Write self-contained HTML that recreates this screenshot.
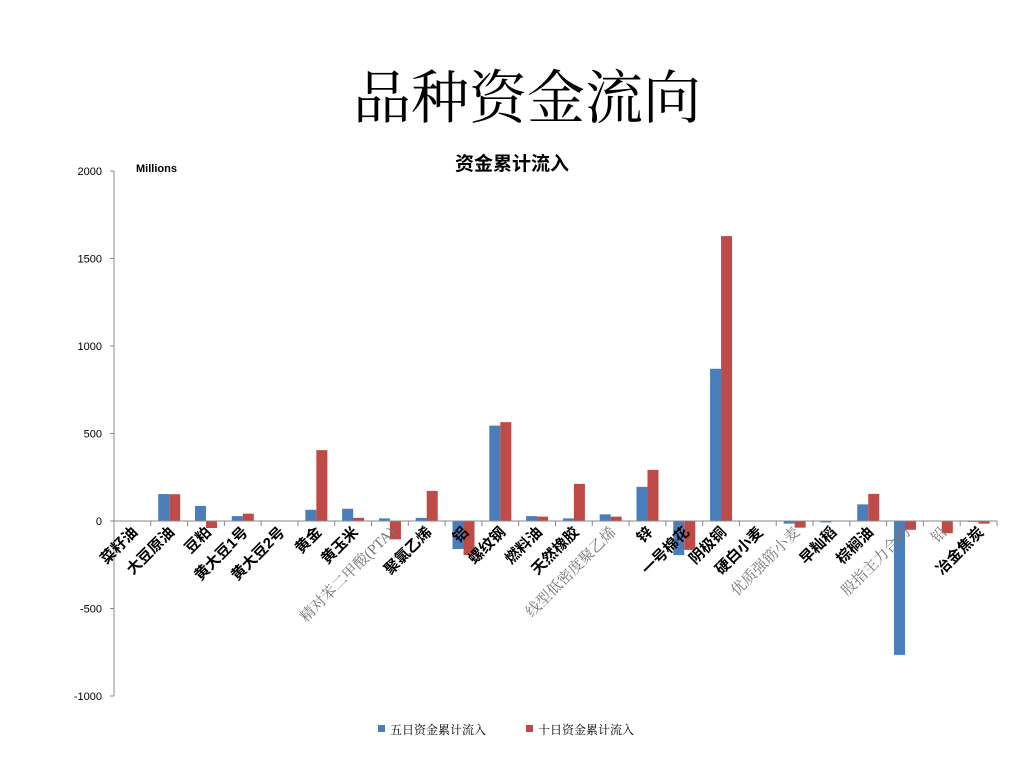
<!DOCTYPE html>
<html><head><meta charset="utf-8">
<style>
body{margin:0;background:#fff;}
svg{display:block;}
</style></head>
<body>
<svg id="c" width="1024" height="768" xmlns="http://www.w3.org/2000/svg">
<text x="527" y="118" text-anchor="middle" font-family="'Liberation Serif','Noto Serif CJK SC',serif" font-size="58" fill="#000">品种资金流向</text>
<text x="512" y="170" text-anchor="middle" font-family="'Liberation Sans','Noto Sans CJK SC',sans-serif" font-size="19" font-weight="bold" fill="#000">资金累计流入</text>
<text x="136" y="172" font-family="'Liberation Sans',sans-serif" font-size="11" font-weight="bold" fill="#000">Millions</text>
<g id="plot"></g>
<g>
<rect x="378" y="725" width="7" height="7" fill="#4a7ebb"/>
<text x="390" y="734" font-family="'Liberation Serif','Noto Serif CJK SC',serif" font-size="12" fill="#000">五日资金累计流入</text>
<text x="0" y="0" display="none"></text>
<rect x="526" y="725" width="7" height="7" fill="#be4b48"/>
<text x="538" y="734" font-family="'Liberation Serif','Noto Serif CJK SC',serif" font-size="12" fill="#000">十日资金累计流入</text>
</g>
</svg>
<script>
const categories=["菜籽油","大豆原油","豆粕","黄大豆1号","黄大豆2号","黄金","黄玉米","精对苯二甲酸(PTA)","聚氯乙烯","铝","螺纹钢","燃料油","天然橡胶","线型低密度聚乙烯","锌","一号棉花","阴极铜","硬白小麦","优质强筋小麦","早籼稻","棕榈油","股指主力合约","铅","冶金焦炭"];
const fiveDay=[0,154,86,28,0,64,70,15,18,-160,545,28,15,38,195,-195,870,-3,-15,-8,95,-765,-3,-5];
const tenDay=[0,153,-40,42,0,405,18,-105,172,-195,565,25,212,25,292,-165,1628,-3,-38,0,155,-50,-70,-15];
const lightLabels=["精对苯二甲酸(PTA)","线型低密度聚乙烯","优质强筋小麦","股指主力合约","铅"];
const yTicks=[-1000,-500,0,500,1000,1500,2000];
const NS="http://www.w3.org/2000/svg";
const X0=114,X1=997,Y0v=-1000,Y1v=2000,YT=171,YB=696;
const y=v=>YB-(v-Y0v)/(Y1v-Y0v)*(YB-YT);
const bw=(X1-X0)/categories.length;
const xc=i=>X0+bw*(i+0.5);
const g=document.getElementById('plot');
function mk(t,a){const e=document.createElementNS(NS,t);for(const k in a)e.setAttribute(k,a[k]);g.appendChild(e);return e;}
const ax=mk('line',{x1:X0,y1:YT,x2:X0,y2:YB,stroke:'#888','stroke-width':1});


yTicks.forEach(v=>{
 const t=mk('line',{x1:X0-4,x2:X0,y1:y(v),y2:y(v),stroke:'#888'});
 
 
 const l=mk('text',{x:X0-12,y:y(v)+4,'text-anchor':'end','font-family':"'Liberation Sans',sans-serif",'font-size':11,fill:'#000'});
 l.textContent=v;
 
 
});
categories.forEach((c,i)=>{
 const c0=xc(i);
 const b1=mk('rect',{x:c0-11,width:11,y:Math.min(y(0),y(fiveDay[i])),height:Math.abs(y(fiveDay[i])-y(0)),fill:'#4a7ebb'});
 
 
 const b2=mk('rect',{x:c0,width:11,y:Math.min(y(0),y(tenDay[i])),height:Math.abs(y(tenDay[i])-y(0)),fill:'#be4b48'});
 
 
});
const xa=mk('line',{x1:X0,y1:y(0),x2:X1,y2:y(0),stroke:'#888'});


for(let i=0;i<=categories.length;i++){
 const t=mk('line',{x1:X0+bw*i,x2:X0+bw*i,y1:y(0),y2:y(0)+5,stroke:'#888'});
 
 
}
categories.forEach((c,i)=>{
 const light=lightLabels.includes(c);
 const tx=xc(i)+6,ty=y(0)+12;
 const l=mk('text',{x:tx,y:ty,'text-anchor':'end',transform:`rotate(-45 ${tx} ${ty})`,
  'font-family':light?"'Liberation Serif','Noto Serif CJK SC',serif":"'Liberation Sans','Noto Sans CJK SC',sans-serif",
  'font-size':light?15:15,'font-weight':light?'normal':'bold',fill:light?'#777':'#000'});
 l.textContent=c;
 
 
});
</script>
</body></html>
